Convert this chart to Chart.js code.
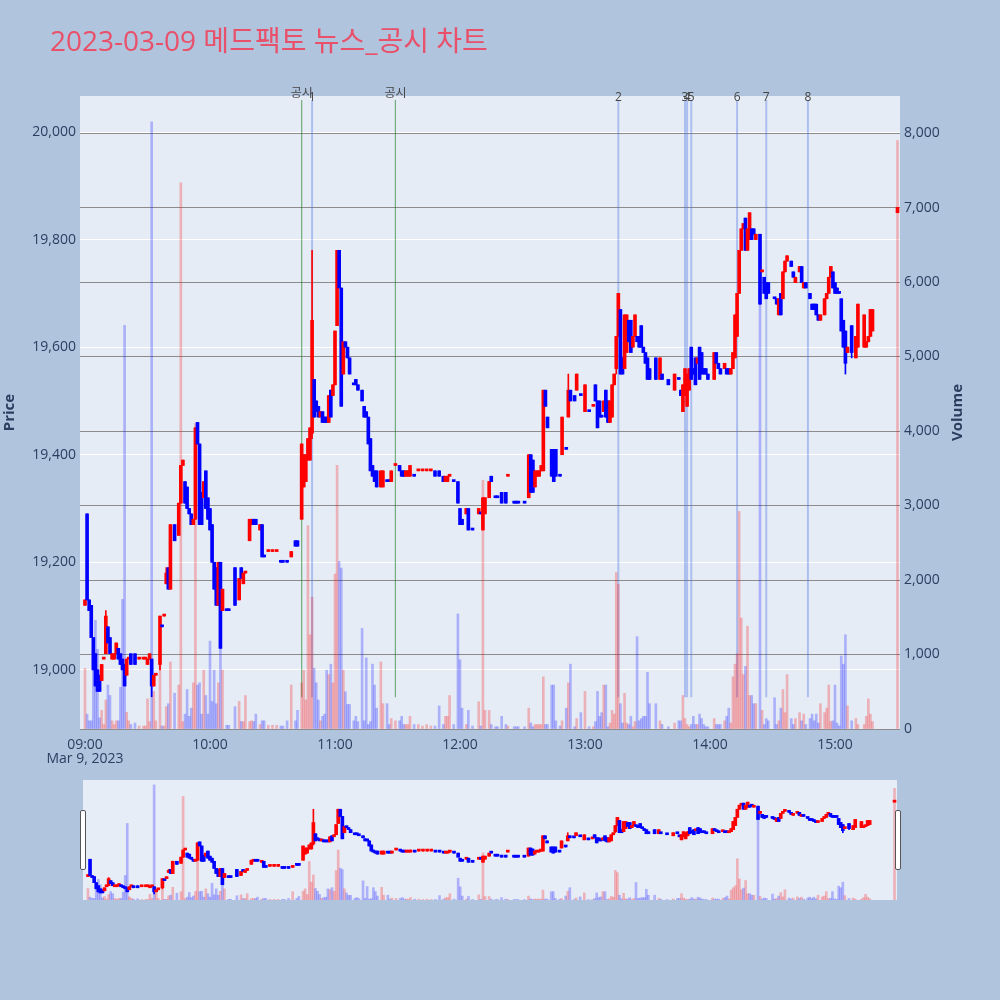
<!DOCTYPE html>
<html lang="ko">
<head>
    <meta charset="UTF-8">
    <title>2023-03-09 메드팩토 뉴스_공시 차트</title>
    <script src="https://cdn.jsdelivr.net/npm/chart.js"></script>
    <style>
        body { margin: 0; background: #B0C4DE; }
        .wrap { position: relative; width: 1000px; height: 1000px; overflow: hidden; }
        #title {
            position: absolute; left: 50px; top: 23px; z-index: 2;
            font: 28px "Open Sans", "Noto Sans CJK KR", sans-serif; line-height: 34px;
            color: #E9506A; white-space: nowrap;
        }
        canvas { position: absolute; left: 0; }
        #main { top: 0; }
        #slider { top: 780px; }
        .handle {
            position: absolute; top: 810px; width: 4px; height: 58px; z-index: 2;
            background: #fff; border: 1px solid #555; border-radius: 2px;
        }
    </style>
</head>
<body>
<div class="wrap">
    <div id="title">2023-03-09 메드팩토 뉴스_공시 차트</div>
    <canvas id="main" width="1000" height="775"></canvas>
    <canvas id="slider" width="1000" height="120"></canvas>
    <div class="handle" style="left:80px"></div>
    <div class="handle" style="left:895px"></div>
</div>

<script>
    // 1분봉 데이터 (시가/고가/저가/종가/거래량)
    const times = [
        '09:00','09:01','09:02','09:03','09:04','09:05','09:06','09:07','09:08','09:09',
        '09:10','09:11','09:12','09:13','09:14','09:15','09:16','09:17','09:18','09:19',
        '09:20','09:21','09:22','09:24','09:26','09:28','09:29','09:30','09:31','09:32',
        '09:33','09:34','09:36','09:37','09:38','09:39','09:40','09:41','09:43','09:45',
        '09:46','09:47','09:48','09:49','09:50','09:51','09:52','09:53','09:54','09:55',
        '09:56','09:57','09:58','09:59','10:00','10:01','10:02','10:03','10:04','10:05',
        '10:06','10:08','10:09','10:12','10:14','10:15','10:16','10:17','10:19','10:20',
        '10:21','10:22','10:24','10:25','10:26','10:28','10:30','10:32','10:34','10:35',
        '10:37','10:39','10:41','10:42','10:44','10:45','10:46','10:47','10:48','10:49',
        '10:50','10:51','10:52','10:53','10:54','10:55','10:56','10:57','10:58','10:59',
        '11:00','11:01','11:02','11:03','11:04','11:05','11:06','11:07','11:09','11:10',
        '11:11','11:13','11:14','11:15','11:16','11:17','11:18','11:19','11:20','11:22',
        '11:23','11:25','11:26','11:27','11:29','11:31','11:32','11:33','11:34','11:35',
        '11:36','11:38','11:40','11:42','11:44','11:46','11:48','11:50','11:52','11:53',
        '11:54','11:55','11:57','11:59','12:00','12:01','12:03','12:04','12:06','12:09',
        '12:10','12:11','12:12','12:14','12:15','12:17','12:18','12:20','12:22','12:23',
        '12:26','12:27','12:28','12:31','12:33','12:34','12:35','12:36','12:37','12:38',
        '12:39','12:40','12:41','12:42','12:44','12:45','12:46','12:48','12:49','12:51',
        '12:52','12:53','12:55','12:56','12:58','13:00','13:02','13:04','13:05','13:06',
        '13:07','13:08','13:09','13:10','13:11','13:12','13:13','13:14','13:15','13:16',
        '13:17','13:18','13:19','13:20','13:21','13:22','13:23','13:24','13:25','13:26',
        '13:27','13:28','13:29','13:30','13:31','13:34','13:36','13:37','13:40','13:43',
        '13:45','13:46','13:47','13:48','13:49','13:50','13:51','13:52','13:53','13:54',
        '13:55','13:56','13:57','13:58','13:59','14:02','14:03','14:04','14:05','14:07',
        '14:08','14:09','14:10','14:11','14:12','14:13','14:14','14:15','14:16','14:17',
        '14:18','14:19','14:20','14:21','14:22','14:24','14:25','14:26','14:27','14:28',
        '14:31','14:32','14:33','14:34','14:35','14:36','14:37','14:39','14:40','14:41',
        '14:43','14:44','14:45','14:46','14:48','14:49','14:50','14:51','14:52','14:53',
        '14:55','14:56','14:57','14:58','14:59','15:00','15:01','15:02','15:03','15:04',
        '15:05','15:06','15:08','15:10','15:11','15:14','15:15','15:16','15:17','15:18','15:30'
    ];
    const opens = [
        19120,19290,19130,19120,19060,19030,19000,18990,18980,19020,
        19030,19080,19060,19020,19020,19030,19040,19030,19020,19010,
        18990,19020,19030,19030,19020,19020,19020,19010,19020,19020,
        18970,18990,19010,19080,19100,19160,19190,19150,19270,19250,
        19310,19380,19350,19340,19300,19290,19270,19280,19460,19420,
        19330,19320,19370,19320,19300,19270,19200,19190,19120,19200,
        19110,19110,19110,19190,19130,19190,19160,19180,19240,19270,
        19280,19280,19260,19270,19210,19220,19220,19220,19200,19200,
        19200,19210,19240,19240,19280,19340,19350,19390,19390,19440,
        19540,19500,19490,19470,19480,19470,19470,19460,19520,19510,
        19530,19640,19780,19710,19550,19610,19600,19580,19530,19540,
        19530,19520,19490,19480,19470,19430,19380,19370,19370,19340,
        19340,19350,19350,19350,19380,19380,19370,19370,19360,19360,
        19360,19360,19370,19370,19370,19370,19370,19370,19360,19350,
        19350,19360,19350,19350,19300,19280,19290,19300,19260,19290,
        19290,19260,19290,19320,19360,19320,19320,19330,19330,19360,
        19310,19310,19310,19310,19320,19400,19390,19340,19360,19360,
        19370,19370,19520,19470,19410,19410,19410,19360,19400,19410,
        19470,19520,19510,19520,19510,19480,19480,19490,19530,19500,
        19500,19470,19480,19520,19500,19460,19470,19530,19560,19620,
        19670,19580,19560,19590,19650,19650,19600,19620,19620,19620,
        19640,19600,19590,19580,19560,19580,19540,19550,19540,19520,
        19540,19520,19480,19510,19490,19520,19600,19560,19580,19570,
        19600,19590,19560,19560,19550,19540,19590,19570,19560,19560,
        19560,19560,19550,19560,19580,19620,19700,19780,19820,19840,
        19780,19800,19820,19820,19800,19810,19740,19730,19720,19720,
        19690,19690,19660,19700,19690,19740,19760,19760,19740,19720,
        19740,19750,19710,19720,19700,19680,19680,19680,19660,19650,
        19660,19690,19700,19730,19740,19720,19710,19700,19690,19650,
        19630,19590,19640,19580,19600,19600,19600,19610,19620,19630,19850
    ];
    const highs = [
        19130,19290,19130,19120,19060,19030,19000,18990,19010,19020,
        19110,19080,19060,19030,19030,19050,19040,19030,19020,19010,
        19020,19020,19030,19030,19020,19020,19020,19020,19030,19020,
        18990,18990,19100,19080,19100,19190,19190,19270,19270,19310,
        19380,19390,19350,19340,19300,19290,19280,19450,19460,19420,
        19330,19350,19370,19320,19300,19270,19200,19190,19200,19200,
        19150,19110,19110,19190,19170,19190,19180,19180,19280,19280,
        19280,19280,19270,19270,19210,19220,19220,19220,19200,19200,
        19200,19220,19240,19240,19420,19400,19400,19430,19450,19780,
        19540,19500,19490,19480,19480,19470,19470,19510,19520,19530,
        19630,19780,19780,19710,19610,19610,19600,19580,19530,19540,
        19530,19520,19490,19480,19470,19430,19380,19370,19370,19370,
        19370,19350,19350,19370,19380,19380,19370,19370,19370,19370,
        19380,19360,19370,19370,19370,19370,19370,19370,19360,19360,
        19360,19360,19350,19350,19300,19280,19300,19300,19260,19300,
        19290,19320,19320,19350,19360,19320,19320,19330,19330,19360,
        19310,19310,19310,19310,19400,19400,19390,19370,19370,19370,
        19380,19520,19520,19470,19410,19410,19410,19360,19470,19410,
        19550,19520,19510,19550,19510,19530,19480,19490,19530,19500,
        19500,19470,19500,19520,19500,19500,19530,19550,19620,19700,
        19670,19580,19660,19660,19650,19650,19620,19660,19620,19620,
        19640,19600,19590,19580,19560,19580,19580,19550,19540,19550,
        19540,19520,19530,19560,19550,19560,19600,19560,19580,19580,
        19600,19590,19560,19560,19550,19590,19590,19570,19560,19570,
        19560,19560,19560,19590,19660,19700,19780,19820,19830,19840,
        19820,19850,19820,19820,19810,19810,19740,19730,19720,19720,
        19690,19690,19690,19700,19740,19760,19770,19760,19740,19730,
        19750,19750,19720,19720,19700,19680,19680,19680,19660,19660,
        19690,19700,19730,19750,19740,19720,19710,19700,19690,19650,
        19630,19600,19640,19620,19680,19660,19610,19620,19670,19670,19860
    ];
    const lows = [
        19120,19130,19110,19060,19000,18970,18960,18960,18980,19020,
        19030,19050,19030,19020,19020,19030,19020,19010,19000,18970,
        18990,19020,19010,19010,19020,19020,19020,19010,19020,18950,
        18970,18990,19000,19080,19100,19160,19150,19150,19240,19250,
        19310,19380,19310,19300,19290,19270,19270,19280,19420,19270,
        19270,19320,19300,19280,19260,19200,19150,19120,19120,19040,
        19110,19110,19110,19120,19130,19170,19160,19180,19240,19270,
        19270,19270,19260,19210,19210,19220,19220,19220,19200,19200,
        19200,19210,19230,19230,19280,19340,19350,19390,19390,19430,
        19470,19480,19470,19470,19460,19460,19460,19460,19470,19510,
        19530,19640,19710,19490,19550,19600,19580,19550,19530,19530,
        19520,19500,19470,19470,19420,19370,19360,19350,19340,19340,
        19340,19350,19350,19350,19380,19370,19360,19360,19360,19360,
        19360,19360,19370,19370,19370,19370,19360,19360,19350,19350,
        19350,19360,19350,19310,19270,19270,19290,19260,19260,19290,
        19290,19260,19290,19320,19350,19320,19320,19310,19310,19360,
        19310,19310,19310,19310,19320,19330,19330,19340,19360,19360,
        19370,19370,19490,19450,19360,19350,19360,19360,19400,19410,
        19470,19500,19500,19520,19510,19480,19480,19490,19500,19450,
        19470,19470,19480,19470,19460,19460,19470,19530,19550,19620,
        19550,19550,19560,19590,19610,19590,19600,19620,19610,19600,
        19600,19590,19570,19540,19540,19540,19540,19540,19530,19520,
        19540,19510,19480,19510,19490,19520,19540,19550,19530,19570,
        19540,19550,19550,19550,19540,19540,19570,19560,19550,19560,
        19550,19550,19550,19560,19580,19620,19700,19780,19820,19780,
        19780,19800,19800,19810,19800,19680,19740,19700,19690,19700,
        19690,19680,19660,19660,19690,19740,19760,19750,19730,19720,
        19740,19720,19710,19710,19690,19670,19670,19660,19650,19650,
        19660,19690,19700,19730,19710,19700,19700,19700,19630,19600,
        19550,19590,19580,19580,19600,19600,19600,19610,19620,19630,19850
    ];
    const closes = [
        19130,19130,19110,19060,19000,18970,18960,18960,19010,19020,
        19100,19050,19030,19030,19030,19050,19020,19010,19000,18970,
        19020,19020,19010,19010,19020,19020,19020,19020,19030,18970,
        18990,18990,19100,19080,19100,19180,19150,19270,19240,19310,
        19380,19390,19310,19300,19290,19270,19280,19450,19420,19270,
        19270,19350,19300,19280,19260,19200,19150,19120,19200,19040,
        19150,19110,19110,19120,19170,19170,19180,19180,19280,19280,
        19270,19270,19270,19210,19210,19220,19220,19220,19200,19200,
        19200,19220,19230,19230,19420,19400,19400,19430,19450,19650,
        19470,19480,19470,19480,19460,19460,19460,19510,19470,19530,
        19630,19780,19710,19490,19610,19600,19580,19550,19530,19530,
        19520,19500,19470,19470,19420,19370,19360,19350,19340,19370,
        19370,19350,19350,19370,19380,19370,19360,19360,19370,19370,
        19380,19360,19370,19370,19370,19370,19360,19360,19350,19360,
        19360,19360,19350,19310,19270,19270,19300,19260,19260,19300,
        19290,19320,19320,19350,19350,19320,19320,19310,19310,19360,
        19310,19310,19310,19310,19400,19330,19330,19370,19370,19370,
        19380,19520,19490,19450,19360,19350,19360,19360,19470,19410,
        19520,19500,19500,19550,19510,19530,19480,19490,19500,19450,
        19470,19470,19500,19470,19460,19500,19530,19550,19620,19700,
        19550,19550,19660,19660,19610,19590,19620,19660,19610,19600,
        19600,19590,19570,19540,19540,19540,19580,19540,19530,19550,
        19540,19510,19530,19560,19550,19560,19540,19550,19530,19580,
        19540,19550,19550,19550,19540,19590,19570,19560,19550,19570,
        19550,19550,19560,19590,19660,19700,19780,19820,19830,19780,
        19820,19850,19800,19810,19810,19680,19740,19700,19690,19700,
        19690,19680,19690,19660,19740,19760,19770,19750,19730,19730,
        19750,19720,19720,19710,19690,19670,19670,19660,19650,19660,
        19690,19700,19730,19750,19710,19700,19700,19700,19630,19600,
        19570,19600,19590,19620,19680,19660,19610,19620,19670,19670,19860
    ];
    const volumes = [
        815,200,110,110,840,1460,1070,150,250,60,
        390,590,450,110,60,110,110,560,1740,5420,
        225,110,60,80,40,40,40,405,100,8150,
        505,110,930,40,40,300,340,900,480,590,
        7330,100,200,530,170,280,620,4100,590,620,
        200,790,450,200,1180,370,790,340,620,1180,
        790,50,50,300,370,100,100,450,100,110,
        100,200,60,110,110,50,50,50,40,40,
        110,590,110,250,620,790,390,2730,1265,1770,
        815,620,390,110,170,200,790,730,870,620,
        2080,3540,2250,2160,790,500,330,330,110,170,
        100,1350,110,955,60,100,870,590,280,900,
        340,340,60,140,110,110,170,60,60,60,
        170,60,60,40,60,40,40,310,60,170,
        170,450,60,1545,930,280,60,250,40,365,
        40,3340,250,250,60,30,30,170,60,40,
        30,30,30,30,280,80,30,60,60,60,
        60,700,60,60,590,590,110,40,110,280,
        620,870,30,140,220,505,30,30,100,505,
        170,220,590,590,30,80,250,200,2100,1940,
        340,80,480,80,60,170,30,100,1240,110,
        140,170,170,760,340,340,110,60,30,80,
        110,110,450,140,60,30,60,170,60,60,
        200,140,60,30,30,140,60,60,60,110,
        170,280,80,700,870,1010,2920,1490,730,840,
        1380,450,450,340,340,6640,250,60,140,110,
        420,60,110,280,530,220,730,140,60,140,
        220,110,200,60,140,200,110,200,80,340,
        220,280,590,100,110,590,80,40,980,870,
        1265,310,110,140,60,60,170,405,200,100,7900
    ];

    // 뉴스/공시 표시선
    const markerTimes = ['10:44', '10:49', '11:29', '13:16', '13:48', '13:49', '13:51', '14:13', '14:27', '14:47'];
    const markerLabels = ['공시', '1', '공시', '2', '3', '4', '5', '6', '7', '8'];

    // 축 눈금
    const timeTicks = ['09:00', '10:00', '11:00', '12:00', '13:00', '14:00', '15:00'];
    const timeTickLabels = [['09:00', 'Mar 9, 2023'], '10:00', '11:00', '12:00', '13:00', '14:00', '15:00'];
    const priceTicks = [19000, 19200, 19400, 19600, 19800, 20000];
    const volumeTicks = [0, 1000, 2000, 3000, 4000, 5000, 6000, 7000, 8000];
    const priceTitle = 'Price';
    const volumeTitle = 'Volume';

    const priceMin = 18890, priceMax = 20067;
    const volMax = 8497;
    const xMin = -2.4, xMax = 391.2;

    const toMin = t => { const [h, m] = t.split(':').map(Number); return (h - 9) * 60 + m; };
    const xs = times.map(toMin);

    // 상승/하락 판정 (같으면 직전 종가, 그래도 같으면 직전 방향)
    const dirUp = [];
    closes.forEach((c, i) => {
        const o = opens[i];
        let up;
        if (c !== o) up = c > o;
        else if (i > 0 && c !== closes[i - 1]) up = c > closes[i - 1];
        else up = i > 0 ? dirUp[i - 1] : true;
        dirUp.push(up);
    });
    const candleColors = dirUp.map(u => u ? '#FF0000' : '#0000FF');
    const volColors = dirUp.map(u => u ? 'rgba(255,0,0,0.25)' : 'rgba(0,0,255,0.25)');

    function makeDatasets(bodyW, wickW, volW) {
        return [
            {
                label: 'body', yAxisID: 'y', order: 1, grouped: false,
                data: xs.map((x, i) => ({x: x, y: [Math.min(opens[i], closes[i]), Math.max(opens[i], closes[i])]})),
                backgroundColor: candleColors, barThickness: bodyW, minBarLength: 2
            },
            {
                label: 'wick', yAxisID: 'y', order: 2, grouped: false,
                data: xs.map((x, i) => ({x: x, y: [lows[i], highs[i]]})),
                backgroundColor: candleColors, barThickness: wickW, minBarLength: 1
            },
            {
                label: 'volume', yAxisID: 'yv', order: 3, grouped: false,
                data: xs.map((x, i) => ({x: x, y: volumes[i]})),
                backgroundColor: volColors, barThickness: volW
            }
        ];
    }

    Chart.defaults.font.family = '"Open Sans", "Noto Sans CJK KR", sans-serif';
    Chart.defaults.color = '#2a3f5f';

    // 플롯 배경
    const bgPlugin = color => ({
        id: 'plotBg',
        beforeDraw(chart) {
            const {ctx, chartArea: a} = chart;
            ctx.save();
            ctx.fillStyle = color;
            ctx.fillRect(a.left, a.top, a.right - a.left, a.bottom - a.top);
            ctx.restore();
        }
    });

    // 세로 표시선 + 라벨
    const markerPlugin = {
        id: 'markers',
        beforeDatasetsDraw(chart) {
            const {ctx, chartArea: a, scales: {x}} = chart;
            const h = a.bottom - a.top;
            ctx.save();
            markerTimes.forEach((t, i) => {
                const px = x.getPixelForValue(toMin(t));
                const isGongsi = markerLabels[i] === '공시';
                ctx.strokeStyle = isGongsi ? 'rgba(0,110,0,0.5)' : 'rgba(65,105,225,0.35)';
                ctx.lineWidth = isGongsi ? 1.2 : 2;
                ctx.beginPath();
                ctx.moveTo(px, a.bottom - 0.05 * h);
                ctx.lineTo(px, a.top + 4);
                ctx.stroke();
            });
            ctx.restore();
        },
        afterDraw(chart) {
            const {ctx, chartArea: a, scales: {x}} = chart;
            ctx.save();
            ctx.font = '12px "Open Sans", "Noto Sans CJK KR", sans-serif';
            ctx.fillStyle = '#444';
            ctx.textAlign = 'center';
            ctx.textBaseline = 'alphabetic';
            markerTimes.forEach((t, i) => {
                const dy = markerLabels[i] === '공시' ? 1 : 5;
                ctx.fillText(markerLabels[i], x.getPixelForValue(toMin(t)), a.top + dy);
            });
            ctx.restore();
        }
    };

    // 축 제목 (둘 다 아래에서 위로)
    const axisTitlePlugin = {
        id: 'axisTitles',
        afterDraw(chart) {
            const {ctx, chartArea: a} = chart;
            const cy = (a.top + a.bottom) / 2;
            [[priceTitle, 10], [volumeTitle, 958]].forEach(([text, cx]) => {
                ctx.save();
                ctx.font = 'bold 15px "Open Sans", sans-serif';
                ctx.fillStyle = '#2a3f5f';
                ctx.textAlign = 'center';
                ctx.textBaseline = 'middle';
                ctx.translate(cx, cy);
                ctx.rotate(-Math.PI / 2);
                ctx.fillText(text, 0, 0);
                ctx.restore();
            });
        }
    };

    const tickFont = {size: 14};

    new Chart(document.getElementById('main'), {
        type: 'bar',
        data: {datasets: makeDatasets(3, 1, 2)},
        options: {
            responsive: false,
            animation: false,
            layout: {padding: {top: 96, left: 0, right: 0, bottom: 0}},
            plugins: {legend: {display: false}, tooltip: {enabled: false}},
            scales: {
                x: {
                    type: 'linear', min: xMin, max: xMax, bounds: 'data', offset: false,
                    grid: {display: false}, border: {display: false},
                    afterBuildTicks: s => { s.ticks = timeTicks.map(t => ({value: toMin(t)})); },
                    ticks: {autoSkip: false, maxRotation: 0, padding: 1, font: {size: 14, lineHeight: 1.0},
                        callback: (v, i) => timeTickLabels[i]},
                    afterFit: s => { s.height = 46; }
                },
                y: {
                    type: 'linear', position: 'left', min: priceMin, max: priceMax, bounds: 'data',
                    grid: {color: '#ffffff', lineWidth: 1, drawTicks: false}, border: {display: false},
                    afterBuildTicks: s => { s.ticks = priceTicks.map(v => ({value: v})); },
                    ticks: {padding: 4, font: tickFont, callback: v => v.toLocaleString('en-US')},
                    afterFit: s => { s.width = 80; }
                },
                yv: {
                    type: 'linear', position: 'right', min: 0, max: volMax, bounds: 'data',
                    grid: {color: '#8c8c8c', lineWidth: 1, drawTicks: false}, border: {display: false},
                    afterBuildTicks: s => { s.ticks = volumeTicks.map(v => ({value: v})); },
                    ticks: {padding: 4, font: tickFont, callback: v => v.toLocaleString('en-US')},
                    afterFit: s => { s.width = 100; }
                }
            }
        },
        plugins: [bgPlugin('#E5ECF6'), markerPlugin, axisTitlePlugin]
    });

    // 하단 레인지 슬라이더 (같은 데이터 축소판)
    new Chart(document.getElementById('slider'), {
        type: 'bar',
        data: {datasets: makeDatasets(3, 1, 2)},
        options: {
            responsive: false,
            animation: false,
            layout: {padding: {top: 0, left: 83, right: 103, bottom: 0}},
            plugins: {legend: {display: false}, tooltip: {enabled: false}},
            scales: {
                x: {type: 'linear', display: false, min: xMin, max: xMax, bounds: 'data', offset: false},
                y: {type: 'linear', display: false, min: priceMin, max: priceMax, bounds: 'data'},
                yv: {type: 'linear', display: false, position: 'right', min: 0, max: volMax, bounds: 'data'}
            }
        },
        plugins: [bgPlugin('#E7EDF7')]
    });
</script>
</body>
</html>
